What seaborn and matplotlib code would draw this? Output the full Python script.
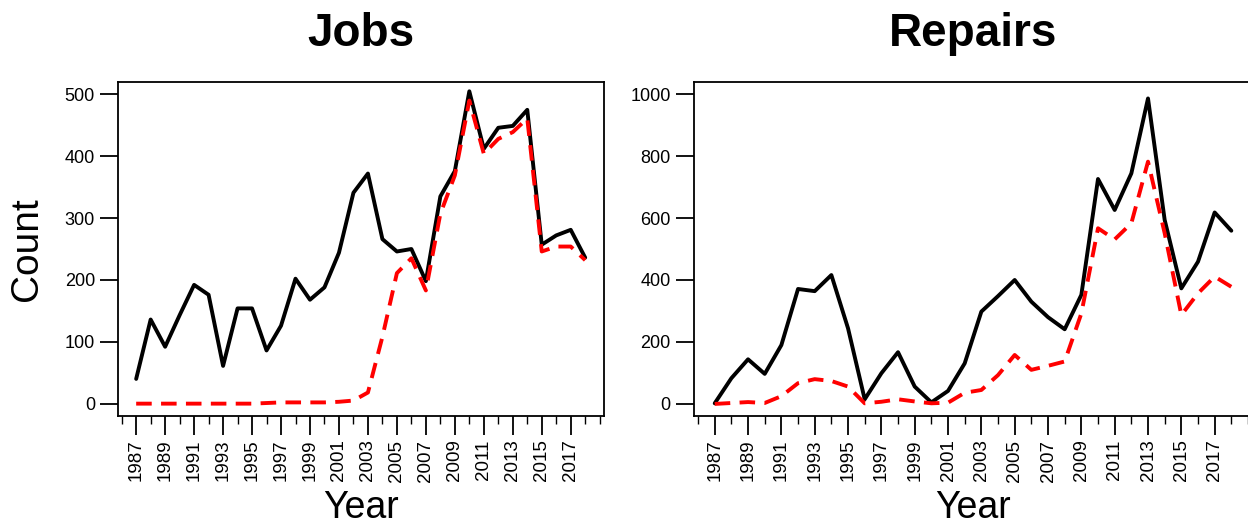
import numpy as np
import pandas as pd
import matplotlib
matplotlib.use("Agg")
import matplotlib.pyplot as plt
from matplotlib.ticker import MultipleLocator
import seaborn as sns

# years on the x axis
years = list(range(1987, 2019))

# Jobs panel: total (black) and red dashed series
jobs_total = [40, 136, 92, 143, 192, 176, 61, 154, 154, 86, 126, 202,
              168, 188, 244, 341, 372, 266, 246, 250, 198, 335, 376, 505,
              412, 446, 449, 475, 257, 272, 281, 236]
jobs_red = [0, 0, 0, 0, 0, 0, 0, 0, 0, 1, 2, 2,
            2, 2, 3, 5, 18, 108, 211, 235, 183, 307, 369, 490,
            404, 428, 439, 461, 246, 254, 254, 232]

# Repairs panel
repairs_total = [2, 83, 144, 97, 190, 371, 364, 416, 244, 15, 99, 167,
                 56, 5, 42, 131, 298, 348, 400, 330, 280, 241, 352, 726,
                 626, 744, 986, 594, 373, 459, 618, 559]
repairs_red = [0, 3, 6, 3, 25, 67, 80, 74, 56, 2, 7, 15,
               8, 2, 4, 36, 45, 93, 158, 110, 123, 137, 292, 567,
               531, 583, 782, 551, 287, 357, 411, 378]

sns.set_style("ticks")
plt.rcParams['font.family'] = ['Liberation Sans', 'DejaVu Sans']
plt.rcParams.update({"text.color": "black", "axes.labelcolor": "black",
                     "xtick.color": "black", "ytick.color": "black"})

fig = plt.figure(figsize=(12.48, 5.26), dpi=100)
ax1 = fig.add_axes([0.0946, 0.2091, 0.3894, 0.635])
ax2 = fig.add_axes([0.556, 0.2091, 0.448, 0.635])


def panel(ax, total, red, title, ylim, ystep, ylabel):
    df = pd.DataFrame({"Year": years, "total": total, "red": red})
    sns.lineplot(data=df, x="Year", y="total", color="black",
                 linewidth=2.8, ax=ax)
    sns.lineplot(data=df, x="Year", y="red", color="red",
                 linewidth=2.8, ax=ax)
    ax.lines[-1].set_dashes((4, 2.4))
    ax.set_xlim(1985.75, 2019.3)
    ax.set_ylim(*ylim)
    ax.xaxis.set_minor_locator(MultipleLocator(1))
    ax.set_xticks(range(1987, 2019, 2))
    ax.set_xticklabels([str(y) for y in range(1987, 2019, 2)],
                       rotation=90)
    ax.set_yticks(np.arange(0, ylim[1], ystep))
    ax.tick_params(axis="x", which="major", length=14, width=1.3,
                   labelsize=13.5, pad=3)
    ax.tick_params(axis="x", which="minor", length=6, width=1.0)
    ax.tick_params(axis="y", length=13, width=1.3, labelsize=13, pad=3.6)
    for s in ax.spines.values():
        s.set_linewidth(1.3)
        s.set_color("black")
        s.set_visible(True)
    ax.set_xlabel("Year", fontsize=27, labelpad=6)
    if ylabel:
        ax.set_ylabel("Count", fontsize=28, labelpad=14)
    else:
        ax.set_ylabel("")
    ax.set_title(title, fontsize=33, fontweight="bold", pad=26)


panel(ax1, jobs_total, jobs_red, "Jobs", (-20, 520), 100, True)
panel(ax2, repairs_total, repairs_red, "Repairs", (-39, 1039), 200, False)

plt.savefig("out.png", dpi=100)
